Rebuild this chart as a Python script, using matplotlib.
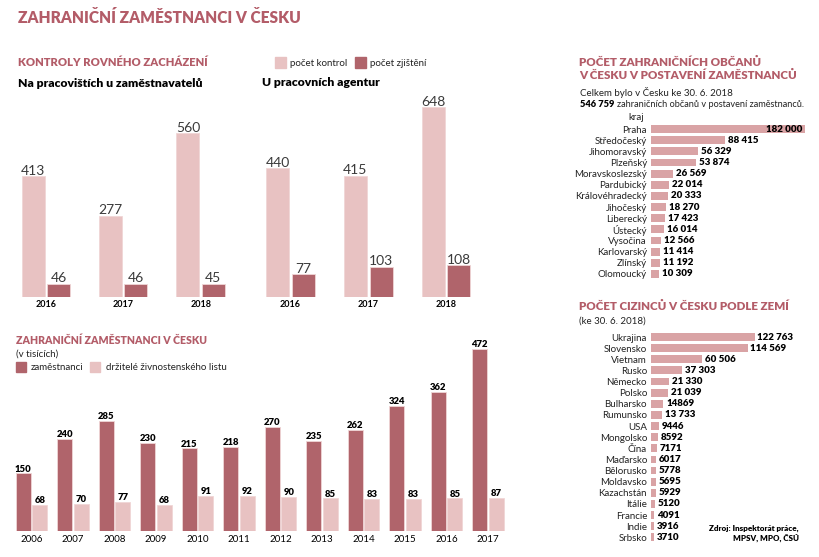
import matplotlib
matplotlib.use("Agg")
import matplotlib.pyplot as plt
import numpy as np

# ---------------- data ----------------
top_years = ["2016", "2017", "2018"]
kontrol_zamestnavatele = [413, 277, 560]
zjisteni_zamestnavatele = [46, 46, 45]
kontrol_agentury = [440, 415, 648]
zjisteni_agentury = [77, 103, 108]

bottom_years = ["2006", "2007", "2008", "2009", "2010", "2011",
                "2012", "2013", "2014", "2015", "2016", "2017"]
zamestnanci = [150, 240, 285, 230, 215, 218, 270, 235, 262, 324, 362, 472]
zivnostnici = [68, 70, 77, 68, 91, 92, 90, 85, 83, 83, 85, 87]

kraje = ["Praha", "Středočeský", "Jihomoravský", "Plzeňský", "Moravskoslezský",
         "Pardubický", "Královéhradecký", "Jihočeský", "Liberecký", "Ústecký",
         "Vysočina", "Karlovarský", "Zlínský", "Olomoucký"]
kraje_vals = [182000, 88415, 56329, 53874, 26569, 22014, 20333, 18270,
              17423, 16014, 12566, 11414, 11192, 10309]
kraje_labels = ["182 000", "88 415", "56 329", "53 874", "26 569", "22 014",
                "20 333", "18 270", "17 423", "16 014", "12 566", "11 414",
                "11 192", "10 309"]

zeme = ["Ukrajina", "Slovensko", "Vietnam", "Rusko", "Německo", "Polsko",
        "Bulharsko", "Rumunsko", "USA", "Mongolsko", "Čína", "Maďarsko",
        "Bělorusko", "Moldavsko", "Kazachstán", "Itálie", "Francie", "Indie",
        "Srbsko"]
zeme_vals = [122763, 114569, 60506, 37303, 21330, 21039, 14869, 13733, 9446,
             8592, 7171, 6017, 5778, 5695, 5929, 5120, 4091, 3916, 3710]
zeme_labels = ["122 763", "114 569", "60 506", "37 303", "21 330", "21 039",
               "14869", "13 733", "9446", "8592", "7171", "6017", "5778",
               "5695", "5929", "5120", "4091", "3916", "3710"]

# ---------------- style ----------------
DARK = "#b0646b"
LIGHT = "#e8c2c2"
HBAR = "#d9a3a5"
TITLE = "#b35c68"
FONT = ["Lato", "DejaVu Sans"]
plt.rcParams["font.family"] = FONT

W, H = 820, 557
fig = plt.figure(figsize=(W / 100, H / 100), dpi=100)
fig.patch.set_facecolor("white")


def fx(x):
    return x / W


def fy(y):
    return 1 - y / H


def T(x, y, s, **kw):
    kw.setdefault("va", "center")
    kw.setdefault("ha", "left")
    return fig.text(fx(x), fy(y), s, **kw)


def add_ax(x0, y0, x1, y1):
    ax = fig.add_axes([fx(x0), fy(y1), (x1 - x0) / W, (y1 - y0) / H])
    ax.set_facecolor("none")
    for s in ax.spines.values():
        s.set_visible(False)
    return ax


def square(x, y, size, color):
    fig.patches.append(plt.Rectangle((fx(x), fy(y + size)), size / W, size / H,
                                     transform=fig.transFigure, color=color))


# ---------------- titles ----------------
T(18, 18, "ZAHRANIČNÍ ZAMĚSTNANCI V ČESKU", color=TITLE, fontsize=11.2,
  fontweight="heavy")
T(18, 63, "KONTROLY ROVNÉHO ZACHÁZENÍ", color=TITLE, fontsize=8.1,
  fontweight="heavy")
T(18, 83, "Na pracovištích u zaměstnavatelů", color="black", fontsize=8.7,
  fontweight="heavy")
T(262, 83, "U pracovních agentur", color="black", fontsize=8.7,
  fontweight="heavy")
square(275, 57, 11, LIGHT)
T(290, 63, "počet kontrol", fontsize=7, color="#222222")
square(355, 57, 11, DARK)
T(370, 63, "počet zjištění", fontsize=7, color="#222222")


# ---------------- top bar charts ----------------
def top_chart(ax, kontrol, zjist, xlim):
    x = np.arange(len(top_years))
    w = 0.297
    off = 0.165
    ax.bar(x - off, kontrol, w, color=LIGHT, edgecolor="#f0d6d6", linewidth=0.6)
    ax.bar(x + off, zjist, w, color=DARK, edgecolor="#f0d6d6", linewidth=0.6)
    for xi, v in zip(x - off, kontrol):
        ax.annotate(str(v), (xi, v), xytext=(0, 1.2), textcoords="offset points",
                    ha="center", va="baseline", fontsize=10, fontweight="normal",
                    color="#3a3a3a")
    for xi, v in zip(x + off, zjist):
        ax.annotate(str(v), (xi, v), xytext=(0, 1.2), textcoords="offset points",
                    ha="center", va="baseline", fontsize=10, fontweight="normal",
                    color="#3a3a3a")
    ax.set_xlim(*xlim)
    ax.set_ylim(0, 197 / 0.2925)
    ax.set_xticks(x)
    ax.set_xticklabels(top_years, fontsize=6.5, fontweight="bold")
    ax.tick_params(axis="x", length=0, pad=2)
    ax.set_yticks([])


ax1 = add_ax(15, 100, 235, 297)
top_chart(ax1, kontrol_zamestnavatele, zjisteni_zamestnavatele, (-0.398, 2.444))
ax2 = add_ax(255, 100, 480, 297)
top_chart(ax2, kontrol_agentury, zjisteni_agentury, (-0.4566, 2.437))

# ---------------- bottom chart ----------------
T(16, 341, "ZAHRANIČNÍ ZAMĚSTNANCI V ČESKU", color=TITLE, fontsize=7.6,
  fontweight="heavy")
T(16, 354, "(v tisících)", fontsize=7, color="#222222")
square(16, 362, 10, DARK)
T(31, 368, "zaměstnanci", fontsize=7, color="#222222")
square(90, 362, 10, LIGHT)
T(106, 368, "držitelé živnostenského listu", fontsize=7, color="#222222")

ax3 = add_ax(5, 340, 520, 531.3)
xb = np.arange(len(bottom_years))
wb = 0.361
ob = 0.2
ax3.bar(xb - ob, zamestnanci, wb, color=DARK, edgecolor="#f0d6d6", linewidth=0.6)
ax3.bar(xb + ob, zivnostnici, wb, color=LIGHT, edgecolor="#f0d6d6", linewidth=0.6)
for xi, v in zip(xb - ob, zamestnanci):
    ax3.annotate(str(v), (xi, v), xytext=(0, 1.3), textcoords="offset points",
                 ha="center", va="baseline", fontsize=6.8, fontweight="heavy",
                 color="black")
for xi, v in zip(xb + ob, zivnostnici):
    ax3.annotate(str(v), (xi, v), xytext=(0, 1.3), textcoords="offset points",
                 ha="center", va="baseline", fontsize=6.8, fontweight="heavy",
                 color="black")
ax3.set_xlim(-0.639, 11.77)
ax3.set_ylim(0, 191.3 / 0.386)
ax3.set_xticks(xb)
ax3.set_xticklabels(bottom_years, fontsize=7)
ax3.tick_params(axis="x", length=0, pad=3)
ax3.set_yticks([])

# ---------------- right panel 1 ----------------
T(579, 62, "POČET ZAHRANIČNÍCH OBČANŮ", color=TITLE, fontsize=8.3,
  fontweight="heavy")
T(579, 75.5, "V ČESKU V POSTAVENÍ ZAMĚSTNANCŮ", color=TITLE, fontsize=8.3,
  fontweight="heavy")
T(580, 93, "Celkem bylo v Česku ke 30. 6. 2018", fontsize=7, color="#222222")
t_num = T(580, 104.5, "546 759", fontsize=6.7, fontweight="heavy", color="black")
renderer = fig.canvas.get_renderer()
bb = t_num.get_window_extent(renderer=renderer)
T(bb.x1 + 2.5, 104.5, "zahraničních občanů v postavení zaměstnanců.",
  fontsize=6.6, color="#222222")
T(644, 118, "kraj", fontsize=7, ha="right", color="#222222")

XMAX = 159.3 / 0.000846

ax4 = add_ax(650.7, 122, 810, 281)
yk = np.arange(len(kraje))
ax4.barh(yk, kraje_vals, 0.7, color=HBAR)
for yi, v, lab in zip(yk, kraje_vals, kraje_labels):
    if v > 150000:
        ax4.annotate(lab, (v, yi), xytext=(-2, 0), textcoords="offset points",
                     ha="right", va="center", fontsize=7, fontweight="heavy",
                     color="black")
    else:
        ax4.annotate(lab, (v, yi), xytext=(2, 0), textcoords="offset points",
                     ha="left", va="center", fontsize=7, fontweight="heavy",
                     color="black")
ax4.set_xlim(0, XMAX)
ax4.set_ylim(13.63, -0.628)
ax4.set_yticks(yk)
ax4.set_yticklabels(kraje, fontsize=7, color="#222222")
ax4.tick_params(axis="y", length=0, pad=2.6)
ax4.set_xticks([])

# ---------------- right panel 2 ----------------
T(579, 306, "POČET CIZINCŮ V ČESKU PODLE ZEMÍ", color=TITLE, fontsize=8.3,
  fontweight="heavy")
T(579, 321, "(ke 30. 6. 2018)", fontsize=7, color="#222222")

ax5 = add_ax(650.7, 330, 810, 546)
yz = np.arange(len(zeme))
ax5.barh(yz, zeme_vals, 0.7, color=HBAR)
for yi, v, lab in zip(yz, zeme_vals, zeme_labels):
    ax5.annotate(lab, (v, yi), xytext=(2, 0), textcoords="offset points",
                 ha="left", va="center", fontsize=7, fontweight="heavy",
                 color="black")
ax5.set_xlim(0, XMAX)
ax5.set_ylim(18.78, -0.629)
ax5.set_yticks(yz)
ax5.set_yticklabels(zeme, fontsize=7, color="#222222")
ax5.tick_params(axis="y", length=0, pad=2.6)
ax5.set_xticks([])

T(799, 528, "Zdroj: Inspektorát práce,", fontsize=5.8, fontweight="heavy",
  ha="right", color="black")
T(799, 538, "MPSV, MPO, ČSÚ", fontsize=5.8, fontweight="heavy", ha="right",
  color="black")

fig.savefig("out.png", dpi=100, facecolor="white")
